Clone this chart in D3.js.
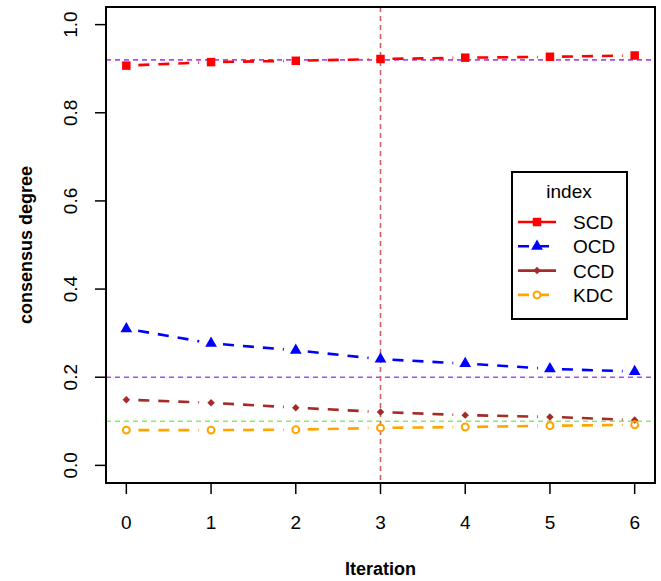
<!DOCTYPE html>
<html>
<head>
<meta charset="utf-8">
<script src="https://cdn.jsdelivr.net/npm/d3@7"></script>
<style>
  body { margin: 0; background: #fff; }
  text { font-family: "Liberation Sans", Arial, sans-serif; fill: #000; }
</style>
</head>
<body>
<svg width="661" height="581"></svg>
<script>
// values
const iterations = [0, 1, 2, 3, 4, 5, 6];
const scd = [0.907, 0.915, 0.918, 0.922, 0.925, 0.927, 0.930];
const ocd = [0.310, 0.277, 0.261, 0.241, 0.231, 0.219, 0.213];
const ccd = [0.149, 0.142, 0.131, 0.121, 0.114, 0.110, 0.103];
const kdc = [0.080, 0.080, 0.081, 0.085, 0.087, 0.090, 0.092];
const yTicks = [0, 0.2, 0.4, 0.6, 0.8, 1.0];
const hLines = [
  {y: 0.92, color: "#b048f0"},
  {y: 0.2, color: "#b048f0"},
  {y: 0.1, color: "#7eef6a"}
];
const vLine = 3;

const series = [
  {name: "SCD", values: scd, color: "#ff0000", shape: "square", legendDash: null},
  {name: "OCD", values: ocd, color: "#0000ff", shape: "triangle", legendDash: "11,9"},
  {name: "CCD", values: ccd, color: "#a52a2a", shape: "diamond", legendDash: null},
  {name: "KDC", values: kdc, color: "#ffa500", shape: "circle", legendDash: "11,9"}
];

let svg = d3.select("svg");
const plotL = 106, plotR = 655, plotT = 7, plotB = 483;
const gap = 12; // type = "b": segments stop short of the points

let x = d3.scaleLinear().domain([-0.24, 6.24]).range([plotL, plotR]);
let y = d3.scaleLinear().domain([-0.04, 1.04]).range([plotB, plotT]);

// reference lines
svg.selectAll(".hline")
  .data(hLines)
  .enter().append("line")
  .attr("x1", plotL).attr("x2", plotR)
  .attr("y1", d => y(d.y)).attr("y2", d => y(d.y))
  .attr("stroke", d => d.color)
  .attr("stroke-width", 1.6)
  .attr("stroke-dasharray", "5,4");

svg.append("line")
  .attr("x1", x(vLine)).attr("x2", x(vLine))
  .attr("y1", plotT).attr("y2", plotB)
  .attr("stroke", "#d06262")
  .attr("stroke-width", 1.6)
  .attr("stroke-dasharray", "5,4");

function symbolPath(shape) {
  if (shape === "square") return d3.symbol(d3.symbolSquare, 72)();
  if (shape === "triangle") return d3.symbol(d3.symbolTriangle, 60)();
  if (shape === "diamond") return d3.symbol(d3.symbolSquare, 28)();
  return d3.symbol(d3.symbolCircle, 38)();
}
function symbolRotate(shape) {
  return shape === "diamond" ? " rotate(45)" : "";
}

series.forEach(function (s) {
  let pts = s.values.map((v, i) => [x(iterations[i]), y(v)]);
  let segs = d3.pairs(pts).map(function (p) {
    let dx = p[1][0] - p[0][0], dy = p[1][1] - p[0][1];
    let len = Math.sqrt(dx * dx + dy * dy);
    let ux = dx / len, uy = dy / len;
    return [p[0][0] + ux * gap, p[0][1] + uy * gap, p[1][0] - ux * gap, p[1][1] - uy * gap];
  });

  svg.append("g")
    .selectAll("line")
    .data(segs)
    .enter().append("line")
    .attr("x1", d => d[0]).attr("y1", d => d[1])
    .attr("x2", d => d[2]).attr("y2", d => d[3])
    .attr("stroke", s.color)
    .attr("stroke-width", 2.6)
    .attr("stroke-dasharray", "11,9");

  svg.append("g")
    .selectAll("path")
    .data(pts)
    .enter().append("path")
    .attr("transform", d => "translate(" + d[0] + "," + d[1] + ")" + symbolRotate(s.shape))
    .attr("d", symbolPath(s.shape))
    .attr("fill", s.shape === "circle" ? "none" : s.color)
    .attr("stroke", s.color)
    .attr("stroke-width", s.shape === "circle" ? 2 : 0);
});

// box
svg.append("rect")
  .attr("x", plotL).attr("y", plotT)
  .attr("width", plotR - plotL).attr("height", plotB - plotT)
  .attr("fill", "none")
  .attr("stroke", "#000")
  .attr("stroke-width", 2);

// x axis
let xAxis = svg.append("g").attr("transform", "translate(0," + (plotB + 1) + ")");
xAxis.selectAll("line")
  .data(iterations)
  .enter().append("line")
  .attr("x1", d => x(d)).attr("x2", d => x(d))
  .attr("y1", 0).attr("y2", 10)
  .attr("stroke", "#000").attr("stroke-width", 1.5);
xAxis.selectAll("text")
  .data(iterations)
  .enter().append("text")
  .attr("x", d => x(d)).attr("y", 45)
  .attr("text-anchor", "middle")
  .attr("font-size", 19)
  .text(d => d);

// y axis
let yAxis = svg.append("g").attr("transform", "translate(" + (plotL - 1) + ",0)");
yAxis.selectAll("line")
  .data(yTicks)
  .enter().append("line")
  .attr("x1", 0).attr("x2", -10)
  .attr("y1", d => y(d)).attr("y2", d => y(d))
  .attr("stroke", "#000").attr("stroke-width", 1.5);
yAxis.selectAll("text")
  .data(yTicks)
  .enter().append("text")
  .attr("transform", d => "translate(-28," + y(d) + ") rotate(-90)")
  .attr("text-anchor", "middle")
  .attr("font-size", 19)
  .text(d => d3.format(".1f")(d));

// axis titles
svg.append("text")
  .attr("x", (plotL + plotR) / 2).attr("y", 575)
  .attr("text-anchor", "middle")
  .attr("font-size", 18)
  .attr("font-weight", "bold")
  .text("Iteration");

svg.append("text")
  .attr("transform", "translate(32," + (plotT + plotB) / 2 + ") rotate(-90)")
  .attr("text-anchor", "middle")
  .attr("font-size", 18)
  .attr("font-weight", "bold")
  .text("consensus degree");

// legend
let legend = svg.append("g");
legend.append("rect")
  .attr("x", 512).attr("y", 172)
  .attr("width", 115).attr("height", 147)
  .attr("fill", "#fff")
  .attr("stroke", "#000").attr("stroke-width", 2);
legend.append("text")
  .attr("x", 569).attr("y", 198)
  .attr("text-anchor", "middle")
  .attr("font-size", 19)
  .text("index");

let items = legend.selectAll(".item")
  .data(series)
  .enter().append("g")
  .attr("transform", (d, i) => "translate(0," + (222 + i * 24.3) + ")");
items.append("line")
  .attr("x1", 518).attr("x2", 556)
  .attr("y1", 0).attr("y2", 0)
  .attr("stroke", d => d.color)
  .attr("stroke-width", 2.6)
  .attr("stroke-dasharray", d => d.legendDash);
items.append("path")
  .attr("transform", d => "translate(537,0)" + symbolRotate(d.shape))
  .attr("d", d => symbolPath(d.shape))
  .attr("fill", d => d.shape === "circle" ? "#fff" : d.color)
  .attr("stroke", d => d.color)
  .attr("stroke-width", d => d.shape === "circle" ? 2 : 0);
items.append("text")
  .attr("x", 573).attr("y", 7)
  .attr("font-size", 19)
  .text(d => d.name);
</script>
</body>
</html>
